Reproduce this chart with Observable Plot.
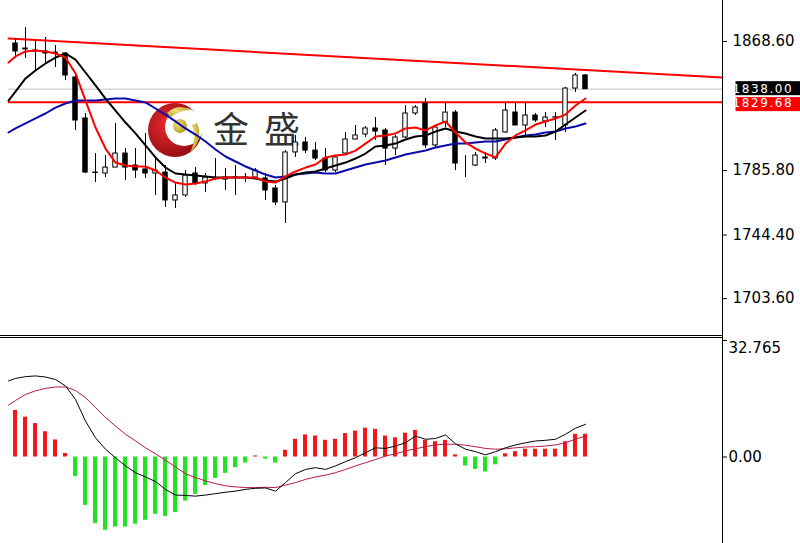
<!DOCTYPE html>
<html>
<head>
<meta charset="utf-8">
<script src="https://cdn.jsdelivr.net/npm/d3@7"></script>
<script src="https://cdn.jsdelivr.net/npm/@observablehq/plot@0.6"></script>
<style>
  html, body { margin: 0; padding: 0; background: white; }
  #wrap { position: relative; width: 800px; height: 543px; overflow: hidden; }
  #logo { position: absolute; left: 0; top: 0; z-index: 0; }
  #charts { position: absolute; left: 0; top: 0; z-index: 1; }
  #charts svg { display: block; }
</style>
</head>
<body>
<div id="wrap">
  <svg id="logo" width="800" height="543">
    <defs>
      <radialGradient id="rg" cx="0.38" cy="0.4" r="0.7">
        <stop offset="0" stop-color="#ec2a30"/>
        <stop offset="1" stop-color="#8a0b10"/>
      </radialGradient>
      <radialGradient id="gold" cx="0.35" cy="0.35" r="0.75">
        <stop offset="0" stop-color="#f3e47c"/>
        <stop offset="1" stop-color="#b09520"/>
      </radialGradient>
    </defs>
    <circle cx="175" cy="130" r="27" fill="url(#rg)"/>
    <circle cx="184" cy="127" r="19" fill="white"/>
    <path d="M167,113 Q178,103 191,110 Q180,110 171,117 Z" fill="url(#gold)"/>
    <path d="M197,123 Q204,139 190,153 Q197,138 192,125 Z" fill="url(#gold)"/>
    <circle cx="180" cy="126" r="7" fill="url(#gold)"/>
    <text x="213" y="143" font-family="Noto Sans CJK SC" font-size="36" fill="#333" letter-spacing="15">金盛</text>
  </svg>
  <div id="charts"></div>
</div>
<script>
// ---------- DATA ----------
const candleIdx = d3.range(58);
const opens  = [1867.3,1863.5,1862.8,1862.2,1861.5,1860.9,1845.5,1819.2,1784.5,1783.9,1787.7,1796.7,1789.0,1786.5,1783.9,1784.5,1766.6,1769.8,1783.9,1777.5,1780.7,1780.0,1781.3,1781.0,1781.3,1780.7,1774.3,1765.3,1797.4,1803.8,1798.6,1793.5,1785.8,1796.7,1805.7,1808.9,1812.8,1811.5,1799.9,1807.0,1822.4,1828.8,1801.9,1816.6,1823.0,1789.7,1789.0,1794.2,1793.5,1810.2,1823.0,1814.7,1821.1,1817.3,1819.8,1814.7,1838.4,1846.8];
const highs  = [1870.5,1877.6,1869.2,1871.2,1866.0,1861.5,1848.1,1822.4,1796.7,1795.4,1816.0,1799.9,1799.9,1809.6,1794.2,1789.0,1778.1,1785.8,1787.7,1783.9,1793.5,1787.1,1789.0,1783.9,1787.1,1783.9,1776.2,1798.6,1808.3,1807.0,1803.8,1799.9,1795.4,1810.2,1814.7,1814.0,1819.8,1812.8,1808.3,1827.5,1827.5,1832.0,1814.7,1829.4,1824.3,1795.4,1797.4,1797.4,1812.8,1828.8,1828.8,1829.4,1822.4,1823.0,1823.0,1839.1,1848.1,1847.4];
const lows   = [1857.7,1857.7,1850.0,1855.1,1851.9,1843.6,1811.5,1783.9,1778.1,1781.3,1787.7,1779.4,1780.7,1780.7,1769.8,1762.1,1761.4,1768.5,1776.2,1771.7,1779.4,1773.0,1769.8,1778.1,1780.7,1766.6,1763.3,1751.8,1794.2,1796.7,1792.2,1784.5,1784.5,1795.4,1805.7,1807.0,1805.1,1789.0,1795.4,1806.3,1821.1,1799.9,1799.9,1813.4,1785.8,1781.3,1788.4,1790.3,1792.2,1809.6,1814.7,1808.3,1816.6,1813.4,1805.1,1810.2,1835.9,1838.0];
const closes = [1862.2,1864.1,1862.2,1860.9,1860.9,1846.8,1817.9,1784.5,1784.2,1787.7,1796.7,1787.7,1785.8,1783.9,1785.8,1766.6,1769.8,1782.6,1777.5,1781.3,1780.9,1781.3,1781.0,1781.3,1785.8,1773.0,1765.3,1797.4,1803.8,1798.6,1793.5,1785.8,1794.2,1805.7,1808.3,1812.8,1810.8,1799.9,1807.0,1822.4,1826.2,1801.9,1813.4,1823.0,1790.3,1789.7,1795.4,1793.5,1811.5,1824.3,1814.7,1821.1,1817.9,1819.8,1820.0,1838.4,1846.8,1838.0];

// moving averages: first point is the left edge of the chart (index -0.7)
const lineIdx = [-0.7, ...candleIdx];
const maFast = [1855.1,1859.0,1862.2,1862.8,1862.2,1860.9,1858.3,1848.1,1830.7,1813.4,1799.9,1790.9,1789.0,1788.4,1788.4,1785.8,1781.3,1778.1,1776.8,1777.5,1778.7,1780.7,1781.3,1781.3,1781.3,1781.3,1778.7,1778.1,1782.0,1785.2,1787.7,1789.7,1794.2,1795.4,1796.1,1798.6,1803.1,1807.6,1808.3,1809.6,1812.8,1813.4,1811.5,1814.7,1817.3,1810.2,1803.8,1799.9,1796.7,1794.2,1803.1,1808.3,1811.5,1815.3,1817.3,1819.2,1821.7,1827.5,1832.0];
const maMid  = [1830.7,1836.5,1844.9,1850.0,1854.5,1858.3,1860.9,1857.0,1848.7,1840.4,1832.0,1824.3,1816.6,1809.6,1801.9,1794.2,1787.7,1783.9,1783.2,1782.6,1782.0,1781.3,1781.3,1781.3,1781.3,1780.7,1779.4,1778.7,1780.7,1783.2,1784.5,1785.2,1787.1,1789.0,1790.9,1793.5,1796.7,1801.2,1801.9,1803.1,1805.7,1807.6,1808.3,1810.8,1812.8,1810.8,1809.6,1807.6,1806.3,1806.3,1806.3,1807.0,1807.6,1807.6,1808.3,1810.8,1815.3,1819.8,1824.3];
const maSlow = [1810.2,1812.8,1816.0,1819.2,1822.4,1826.2,1828.8,1830.7,1830.7,1830.7,1831.4,1832.0,1832.0,1830.7,1829.5,1825.6,1821.7,1817.3,1812.8,1808.9,1804.4,1799.3,1794.8,1791.6,1788.4,1785.8,1783.2,1781.3,1782.0,1783.2,1783.9,1784.5,1783.9,1783.9,1785.8,1787.7,1789.7,1790.9,1792.2,1794.2,1796.1,1797.4,1798.6,1800.6,1801.9,1803.1,1803.1,1803.8,1804.4,1804.4,1805.7,1807.0,1808.3,1808.9,1810.2,1810.8,1812.8,1814.0,1816.0];

// MACD sub-window
const macdHist   = [13.1,11.2,9.4,7.1,4.8,1.0,-5.5,-13.6,-18.7,-20.6,-19.7,-19.7,-18.9,-17.8,-16.1,-16.7,-15.6,-12.4,-10.5,-8.0,-6.0,-4.6,-3.0,-1.7,0.3,-0.6,-1.7,1.9,5.0,6.2,5.9,4.7,5.0,6.6,7.3,8.1,7.8,5.9,5.4,6.7,7.5,4.7,4.3,4.7,0.6,-2.5,-3.5,-4.2,-2.2,0.9,1.5,2.2,2.2,2.2,2.2,4.3,6.4,6.4];
const macdMain   = [21.4,22.1,22.6,22.8,22.5,21.8,20.0,16.2,10.1,5.4,2.2,-0.2,-2.5,-4.4,-5.6,-6.9,-9.1,-10.7,-10.8,-11.0,-10.7,-10.3,-9.9,-9.6,-9.1,-8.8,-8.7,-9.6,-7.2,-4.7,-3.5,-3.0,-3.5,-2.5,-1.3,-0.2,1.2,2.6,2.4,3.1,4.0,5.9,5.0,5.2,6.2,3.7,2.2,1.5,0.6,1.5,2.6,3.4,4.0,4.5,4.7,5.0,6.4,8.1,9.2];
const macdSignal = [14.6,15.9,17.6,18.6,19.3,19.7,19.7,18.7,16.7,13.9,11.1,8.7,6.4,4.5,2.6,0.9,-0.9,-2.8,-4.7,-5.8,-6.7,-7.5,-8.1,-8.4,-8.6,-8.6,-8.5,-8.6,-7.9,-7.2,-6.3,-5.6,-5.1,-4.4,-3.5,-2.5,-1.6,-0.7,0.3,0.9,1.7,2.3,2.9,3.4,3.6,3.6,3.3,2.9,2.4,2.2,2.3,2.6,2.8,2.9,3.1,3.4,4.0,5.0,5.9];

// levels and ticks
const priceTicks = [1868.60, 1785.80, 1744.40, 1703.60];
const bidPrice = 1838.00;
const resistancePrice = 1829.68;
const trendIdx = [-0.7, 70.7];
const trendPrice = [1870.5, 1845.5];
const macdZeroTick = [0];
const macdMaxTick = [32.765];

// ---------- BUILD ----------
const candles = candleIdx.map((i, k) => ({i, o: opens[k], h: highs[k], l: lows[k], c: closes[k]}));
const mk = (arr) => lineIdx.map((i, k) => ({i, v: arr[k]}));
const trend = trendIdx.map((i, k) => ({i, v: trendPrice[k]}));
const hist = candleIdx.map((i, k) => ({i, v: macdHist[k]}));

const xDomain = [-1.5, 70.7];
const mainDomain = [1679.3, 1894.9];
const subDomain = [-24.32, 33.89];
const font = {fontFamily: "DejaVu Sans, sans-serif", fontSize: "15px", background: "transparent", overflow: "visible"};
const halfBody = 0.22;

// price tag (coloured box + white text) drawn in the right margin
function priceTag(price, bg, shift) {
  return Plot.text([price], {
    y: d => d, frameAnchor: "right", dx: 10, dy: shift, textAnchor: "start", fontSize: 12,
    text: d => d3.format(".2f")(d), fill: "#ffffff",
    render(index, scales, values, dimensions, context, next) {
      const g = next(index, scales, values, dimensions, context);
      g.setAttribute("letter-spacing", "1.6px");
      const ns = "http://www.w3.org/2000/svg";
      for (const i of index) {
        const r = document.createElementNS(ns, "rect");
        r.setAttribute("x", dimensions.width - dimensions.marginRight + 3);
        r.setAttribute("y", values.y[i] + shift - 7);
        r.setAttribute("width", 72);
        r.setAttribute("height", 14);
        r.setAttribute("fill", bg);
        g.insertBefore(r, g.firstChild);
      }
      return g;
    }
  });
}

const main = Plot.plot({
  width: 800, height: 336,
  marginLeft: 0, marginRight: 78, marginTop: 0, marginBottom: 0,
  style: font,
  x: {type: "linear", domain: xDomain, axis: null},
  y: {type: "linear", domain: mainDomain, label: null},
  marks: [
    Plot.ruleY([bidPrice], {x1: -0.7, x2: xDomain[1], stroke: "#c0c0c0", strokeWidth: 1}),
    Plot.ruleY([resistancePrice], {x1: -0.7, x2: xDomain[1], stroke: "#ff0000", strokeWidth: 2}),
    Plot.line(trend, {x: "i", y: "v", stroke: "#ff0000", strokeWidth: 2}),
    Plot.ruleX(candles, {x: "i", y1: "l", y2: "h", stroke: "#000", strokeWidth: 1}),
    Plot.rect(candles, {x1: d => d.i - halfBody, x2: d => d.i + halfBody, y1: "o", y2: "c",
      fill: d => d.c >= d.o ? "#ffffff" : "#000000", stroke: "#000", strokeWidth: 1}),
    Plot.line(mk(maSlow), {x: "i", y: "v", stroke: "#0a0aa8", strokeWidth: 2}),
    Plot.line(mk(maMid), {x: "i", y: "v", stroke: "#000000", strokeWidth: 2}),
    Plot.line(mk(maFast), {x: "i", y: "v", stroke: "#ff0000", strokeWidth: 2}),
    Plot.ruleX([xDomain[1]], {stroke: "#000", strokeWidth: 1}),
    Plot.ruleY([mainDomain[0]], {dy: -1, stroke: "#000", strokeWidth: 1}),
    Plot.axisY(priceTicks, {anchor: "right", label: null, tickSize: 4, tickPadding: 6, tickFormat: d3.format(".2f"), fill: "#000", stroke: "#000"}),
    priceTag(bidPrice, "#000000", -0.5),
    priceTag(resistancePrice, "#ff0000", 1)
  ]
});

const sub = Plot.plot({
  width: 800, height: 207,
  marginLeft: 0, marginRight: 78, marginTop: 0, marginBottom: 0,
  style: font,
  x: {type: "linear", domain: xDomain, axis: null},
  y: {type: "linear", domain: subDomain, label: null},
  marks: [
    Plot.rect(hist, {x1: d => d.i - 0.2, x2: d => d.i + 0.2, y1: 0, y2: "v",
      fill: d => d.v >= 0 ? "#f01818" : "#22e322"}),
    Plot.line(mk(macdSignal), {x: "i", y: "v", stroke: "#b8184c", strokeWidth: 1}),
    Plot.line(mk(macdMain), {x: "i", y: "v", stroke: "#000000", strokeWidth: 1}),
    Plot.ruleX([xDomain[1]], {stroke: "#000", strokeWidth: 1}),
    Plot.ruleY([subDomain[1]], {dy: 1, stroke: "#000", strokeWidth: 1}),
    Plot.axisY(macdZeroTick, {anchor: "right", label: null, tickSize: 4, tickPadding: 2, tickFormat: d3.format(".2f"), fill: "#000", stroke: "#000"}),
    Plot.axisY(macdMaxTick, {anchor: "right", label: null, tickSize: 4, text: null, stroke: "#000"}),
    Plot.text(macdMaxTick, {y: d => d, frameAnchor: "right", dx: 6, dy: 8, textAnchor: "start", text: d => String(d), fill: "#000"})
  ]
});

const holder = document.getElementById("charts");
holder.appendChild(main);
holder.appendChild(sub);
</script>
</body>
</html>
